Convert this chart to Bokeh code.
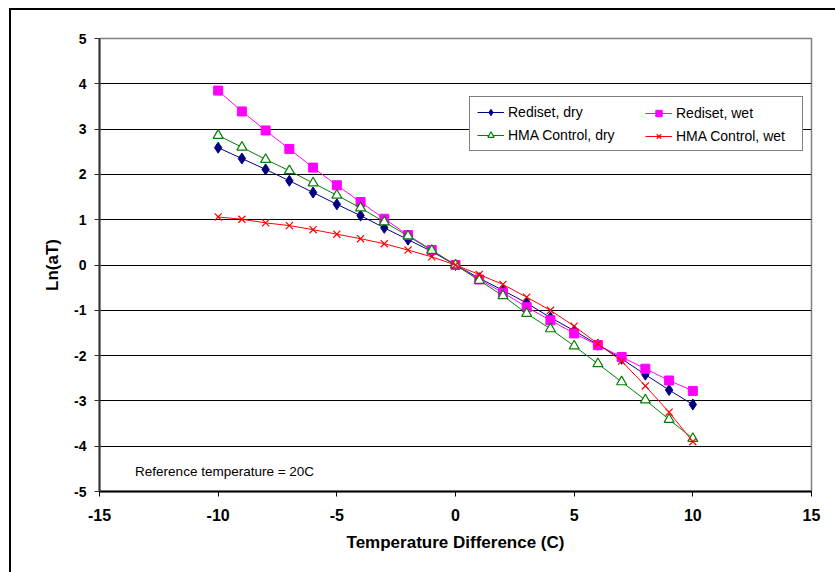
from bokeh.plotting import figure
from bokeh.models import (Legend, LegendItem, Label, FixedTicker, Range1d,
                          InlineStyleSheet)
from bokeh.embed import file_html
from bokeh.resources import INLINE

# ---- data -------------------------------------------------------------
temp_diff = [-10, -9, -8, -7, -6, -5, -4, -3, -2, -1, 0,
             1, 2, 3, 4, 5, 6, 7, 8, 9, 10]
rediset_dry = [2.59, 2.35, 2.11, 1.86, 1.60, 1.34, 1.09, 0.82, 0.56, 0.30, 0.0,
               -0.29, -0.56, -0.84, -1.16, -1.45, -1.76, -2.07, -2.42, -2.76, -3.08]
rediset_wet = [3.85, 3.39, 2.97, 2.56, 2.15, 1.76, 1.39, 1.02, 0.66, 0.33, 0.0,
               -0.32, -0.61, -0.93, -1.22, -1.51, -1.77, -2.03, -2.29, -2.55, -2.78]
hma_dry = [2.86, 2.60, 2.33, 2.08, 1.81, 1.54, 1.26, 0.95, 0.64, 0.32, 0.0,
           -0.34, -0.68, -1.07, -1.41, -1.79, -2.18, -2.58, -2.98, -3.41, -3.83]
hma_wet = [1.06, 1.01, 0.93, 0.87, 0.78, 0.68, 0.58, 0.47, 0.33, 0.18, 0.0,
           -0.21, -0.43, -0.71, -1.00, -1.35, -1.74, -2.12, -2.67, -3.25, -3.90]

x_ticks = [-15, -10, -5, 0, 5, 10, 15]
y_ticks = [-5, -4, -3, -2, -1, 0, 1, 2, 3, 4, 5]

FONT = "Liberation Sans"

p = figure(width=835, height=572, output_backend="svg", toolbar_location=None,
           x_range=Range1d(-15, 15), y_range=Range1d(-5, 5),
           min_border_left=99, min_border_right=24, min_border_top=38,
           min_border_bottom=81, background_fill_color="white",
           border_fill_color="white")

# outer chart border (left and top visible in the window)
p.stylesheets = [InlineStyleSheet(css="""
:host { position: relative; }
:host::after {
  content: ""; position: absolute; left: 9px; top: 8px;
  width: 826px; height: 564px; box-sizing: border-box;
  border-left: 2px solid black; border-top: 2px solid black;
  pointer-events: none; z-index: 10;
}
""")]

p.outline_line_color = "#808080"
p.outline_line_width = 1.5

p.xgrid.visible = False
p.ygrid.grid_line_color = "black"
p.ygrid.grid_line_width = 1

p.xaxis.ticker = FixedTicker(ticks=x_ticks)
p.yaxis.ticker = FixedTicker(ticks=y_ticks)
p.xaxis.major_label_overrides = {t: str(t) for t in x_ticks}
p.yaxis.major_label_overrides = {t: str(t) for t in y_ticks}
for ax in (p.xaxis, p.yaxis):
    ax.minor_tick_line_color = None
    ax.major_tick_in = 0
    ax.major_tick_out = 5
    ax.major_label_text_font = FONT
    ax.major_label_text_font_style = "bold"
    ax.major_label_text_color = "black"
    ax.axis_label_text_font = FONT
    ax.axis_label_text_font_style = "bold"
    ax.axis_label_text_font_size = "17px"
    ax.axis_label_text_color = "black"

p.xaxis.axis_line_color = "black"
p.xaxis.axis_line_width = 2
p.xaxis.major_tick_line_color = "black"
p.xaxis.major_label_text_font_size = "16px"
p.xaxis.major_label_standoff = 12
p.xaxis.axis_label = "Temperature Difference (C)"
p.xaxis.axis_label_standoff = 9

p.yaxis.axis_line_color = "#333333"
p.yaxis.axis_line_width = 2
p.yaxis.major_tick_line_color = "#333333"
p.yaxis.major_label_text_font_size = "14px"
p.yaxis.major_label_standoff = 8
p.yaxis.axis_label = "Ln(aT)"
p.yaxis.axis_label_standoff = 9

# ---- series -----------------------------------------------------------
l1 = p.line(temp_diff, rediset_dry, line_color="#000080", line_width=1)
m1 = p.scatter(temp_diff, rediset_dry, marker="diamond", size=11,
               fill_color="#000080", line_color="#000080")

l2 = p.line(temp_diff, rediset_wet, line_color="#FF00FF", line_width=1)
m2 = p.scatter(temp_diff, rediset_wet, marker="square", size=9,
               fill_color="#FF00FF", line_color="#FF00FF")

l3 = p.line(temp_diff, hma_dry, line_color="#008000", line_width=1)
m3 = p.scatter(temp_diff, hma_dry, marker="triangle", size=10,
               fill_color="white", line_color="#008000", line_width=1.2)

l4 = p.line(temp_diff, hma_wet, line_color="#FF0000", line_width=1)
m4 = p.scatter(temp_diff, hma_wet, marker="x", size=10,
               line_color="#FF0000", line_width=1.2)

# ---- legend (two columns) --------------------------------------------
common = dict(padding=7, spacing=7, glyph_width=27, glyph_height=16,
              label_standoff=4, label_text_font=FONT,
              label_text_font_size="14px", label_text_color="black", margin=0)

legA = Legend(items=[LegendItem(label="Rediset, dry", renderers=[l1, m1]),
                     LegendItem(label="HMA Control, dry", renderers=[l3, m3])],
              location=(370, 340), label_width=287,
              border_line_color="black", border_line_width=1,
              background_fill_color="white", background_fill_alpha=1, **common)
legB = Legend(items=[LegendItem(label="Rediset, wet", renderers=[l2, m2]),
                     LegendItem(label="HMA Control, wet", renderers=[l4, m4])],
              location=(539, 340), border_line_alpha=0,
              background_fill_alpha=0, **common)
p.add_layout(legA)
p.add_layout(legB)

# ---- annotation text --------------------------------------------------
p.add_layout(Label(x=-13.5, y=-4.55, text="Reference temperature = 20C",
                   text_font=FONT, text_font_size="13.5px", text_color="black",
                   text_baseline="alphabetic"))

open("out.html", "w").write(file_html(p, INLINE))
